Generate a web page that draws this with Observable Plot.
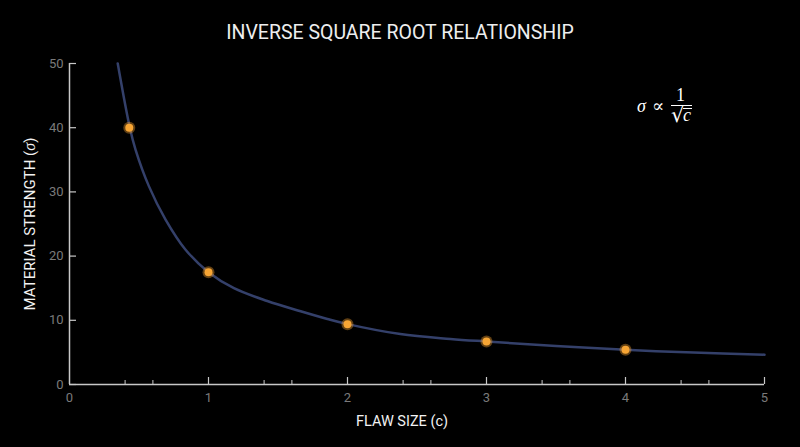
<!DOCTYPE html>
<html><head><meta charset="utf-8">
<script src="https://cdn.jsdelivr.net/npm/d3@7"></script>
<script src="https://cdn.jsdelivr.net/npm/@observablehq/plot@0.6"></script>
<style>
body{margin:0;background:#000;}
#wrap{position:relative;width:800px;height:447px;background:#000;overflow:hidden;}
#title{height:50px;box-sizing:border-box;padding-top:21px;line-height:24px;text-align:center;color:#eee;font:400 19.5px Roboto,sans-serif;}
#chart svg{display:block;}
.f{position:absolute;color:#fff;font-family:"Liberation Serif","DejaVu Serif",serif;font-size:18px;line-height:18px;white-space:nowrap;}
.bar{position:absolute;background:#fff;height:1px;}
</style></head>
<body><div id="wrap">
<div id="title">INVERSE SQUARE ROOT RELATIONSHIP</div>
<div id="chart"></div>
<div class="f" style="left:637px;top:97px;"><i>σ</i></div>
<div class="f" style="left:652px;top:97px;">∝</div>
<div class="f" style="left:676px;top:86px;">1</div>
<div class="bar" style="left:671px;top:105px;width:21px;"></div>
<div class="f" style="left:671px;top:105px;font-family:'DejaVu Sans',sans-serif;font-size:21px;line-height:21px;">√</div>
<div class="bar" style="left:683px;top:108px;width:9px;"></div>
<div class="f" style="left:683px;top:106px;"><i>c</i></div>
</div>
<script>
// data
const curveC = [0.347, 0.434, 0.475, 0.571, 0.691, 0.835, 1.0, 1.183, 1.423, 1.663, 1.855, 2.0, 2.38, 2.74, 3.0, 3.5, 4.0, 4.49, 5.0];
const curveS = [50, 40, 36.6, 30.9, 25.7, 21.0, 17.5, 15.0, 13.0, 11.4, 10.2, 9.4, 7.85, 7.1, 6.7, 6.0, 5.4, 4.98, 4.65];
const pointC = [0.43, 1, 2, 3, 4];
const pointS = [40, 17.5, 9.4, 6.7, 5.4];
const xMajor = [1, 2, 3, 4, 5];
const xMinor = [0.4, 0.6, 1.4, 1.6, 2.4, 2.6, 3.4, 3.6, 4.4, 4.6];
const xLabels = [0, 1, 2, 3, 4, 5];
const yTicks = [0, 10, 20, 30, 40, 50];
const xLabel = "FLAW SIZE (c)";
const yLabel = "MATERIAL STRENGTH (σ)";

const curve = curveC.map((c, i) => ({c, s: curveS[i]}));
const points = pointC.map((c, i) => ({c, s: pointS[i]}));

const W = 800, H = 397, mt = 13, mb = 63, ml = 69, mr = 36;
const fw = W - ml - mr, fh = H - mt - mb;
const axisColor = "#c8c8c8";

const chart = Plot.plot({
  width: W, height: H,
  marginTop: mt, marginBottom: mb, marginLeft: ml, marginRight: mr,
  style: {background: "#000", fontFamily: "Roboto, sans-serif"},
  x: {domain: [0, 5]},
  y: {domain: [0, 50]},
  marks: [
    Plot.axisX({ticks: xLabels, tickFormat: d3.format("d"), tickSize: 0, tickPadding: 8, fill: "#7a7a7a", fontSize: 13, label: null}),
    Plot.axisY({ticks: yTicks, tickFormat: d3.format("d"), tickSize: 0, tickPadding: 6, fill: "#7a7a7a", fontSize: 13, label: null}),
    Plot.ruleX([0], {stroke: axisColor, strokeWidth: 1.5}),
    Plot.ruleY([0], {stroke: axisColor, strokeWidth: 1.5}),
    Plot.tickX(xMajor, {x: d => d, stroke: axisColor, strokeWidth: 1.2, insetTop: fh - 7}),
    Plot.tickX(xMinor, {x: d => d, stroke: axisColor, strokeWidth: 1, insetTop: fh - 4}),
    Plot.tickY(yTicks, {y: d => d, stroke: axisColor, strokeWidth: 1.2, insetRight: fw - 7}),
    Plot.text([xLabel], {frameAnchor: "bottom", dx: -15, dy: 37, text: d => d, fill: "#f2f2f2", fontSize: 14.5, lineAnchor: "middle", textAnchor: "middle"}),
    Plot.text([yLabel], {frameAnchor: "left", dx: -39, rotate: -90, text: d => d, fill: "#f2f2f2", fontSize: 15, lineAnchor: "middle", textAnchor: "middle"}),
    Plot.line(curve, {x: "c", y: "s", curve: "catmull-rom", stroke: "#34406a", strokeWidth: 2.5}),
    Plot.dot(points, {x: "c", y: "s", r: 6, fill: "#f5a030", fillOpacity: 0.4, ariaLabel: "glow"}),
    Plot.dot(points, {x: "c", y: "s", r: 4, fill: "#f7a534"})
  ]
});
document.getElementById("chart").appendChild(chart);

const svg = d3.select(chart);
const defs = svg.insert("defs", ":first-child");
const f = defs.append("filter").attr("id", "glow").attr("x", "-150%").attr("y", "-150%").attr("width", "400%").attr("height", "400%");
f.append("feGaussianBlur").attr("stdDeviation", 3.5);
svg.selectAll('g[aria-label="glow"]').attr("filter", "url(#glow)");

svg.selectAll("text").each(function() {
  if (this.textContent === yLabel) {
    const t = d3.select(this);
    t.text("");
    t.append("tspan").text("MATERIAL STRENGTH (");
    t.append("tspan").attr("font-style", "italic").attr("font-family", "'Liberation Serif', serif").attr("font-size", 16).text("σ");
    t.append("tspan").text(")");
  }
});
</script>
</body></html>
